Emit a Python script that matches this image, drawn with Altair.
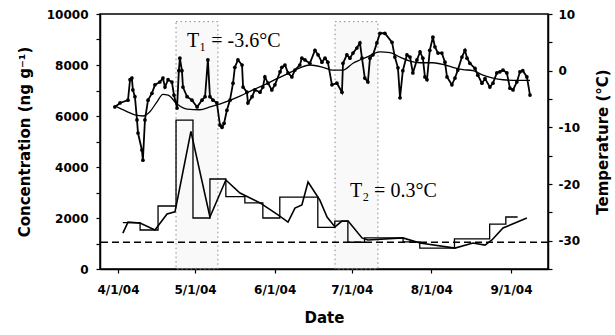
import altair as alt
import pandas as pd

BASE = pd.Timestamp("2004-04-01")

# Daily air temperature (days after 4/1/04, deg C) - right axis
temp_day = [-1.2, 0.8, 3.9, 4.7, 5.4, 5.8, 6.6, 7.4, 7.8, 9.3, 9.7, 10.5, 11.7, 13.2, 14.4, 16.3,
            17.5, 18.3, 19.5, 21.0, 21.8, 23.0, 23.7, 24.1, 24.9, 25.3, 26.9, 28.8, 30.8, 32.7,
            33.9, 35.0, 35.8, 37.0, 38.5, 39.7, 40.5, 41.3, 42.4, 43.6, 44.8, 45.5, 46.7, 48.3,
            48.7, 50.2, 50.6, 52.2, 53.3, 55.3, 56.4, 57.2, 58.4, 59.9, 61.1, 63.1, 63.8, 65.0,
            66.2, 67.7, 68.9, 70.8, 71.6, 72.8, 74.7, 76.7, 77.9, 79.4, 80.6, 81.7, 83.3, 85.2,
            87.2, 87.6, 89.1, 90.3, 91.5, 93.0, 94.2, 95.0, 96.1, 97.3, 98.1, 99.3, 100.8, 102.0,
            103.9, 106.7, 107.8, 109.0, 109.8, 110.9, 112.5, 113.7, 114.8, 116.4, 117.6, 118.7,
            119.5, 120.3, 121.4, 122.6, 123.4, 124.6, 126.1, 127.3, 128.1, 130.0, 131.2, 132.3,
            133.9, 135.1, 135.9, 137.0, 139.0, 140.1, 141.7, 142.9, 144.8, 146.0, 147.5, 148.7,
            149.9, 151.4, 152.6, 153.8, 155.3, 156.5, 157.6, 159.2, 160.4]
temp_val = [-6.4, -5.7, -5.2, -1.6, -1.3, -3.4, -4.6, -8.7, -11.0, -14.0, -15.8, -8.7, -5.2, -4.0,
            -2.5, -2.0, -1.3, -2.9, -1.6, -2.0, -4.3, -6.6, 0.0, 2.2, 0.0, -2.9, -4.6, -5.2, -6.4,
            -5.2, -4.6, 1.9, -4.6, -5.2, -5.7, -9.6, -10.0, -9.3, -7.0, -5.2, -2.2, 0.6, 1.9, 1.0,
            -2.9, -3.8, -5.7, -4.6, -3.4, -3.8, -2.9, -1.1, -2.2, -3.4, -2.5, -0.2, 0.6, 1.0, -0.4,
            -1.1, 0.1, 1.0, 2.2, 1.9, 1.3, 3.6, 2.8, 1.5, 2.2, 1.5, -2.5, -2.2, -3.8, 1.3, 2.8, 2.2,
            3.1, 4.0, 4.9, 2.2, -1.3, -2.0, 2.2, 2.8, 4.9, 6.6, 6.6, 5.0, 2.4, 0.5, -4.8, 0.0, 2.8,
            2.4, -0.4, 1.9, 3.3, 2.2, -1.1, -1.6, 3.6, 5.9, 4.2, 3.1, 3.1, 1.5, -1.1, -2.5, -1.3,
            0.1, 2.4, 3.6, 2.2, 1.3, 0.4, -0.8, -2.2, -1.4, -2.9, -2.2, -0.4, -0.2, 0.1, -0.4, -3.1,
            -3.4, -2.0, -0.2, 0.0, -1.1, -4.3]

# Smoothed temperature
smooth_day = [-0.4, 3.9, 6.6, 9.7, 12.5, 15.2, 17.5, 19.5, 23.0, 26.9, 31.9, 35.8, 40.9, 47.5,
              52.5, 58.0, 61.9, 65.8, 70.8, 74.7, 79.8, 83.7, 87.6, 91.5, 96.9, 102.0, 105.9,
              109.8, 113.7, 117.6, 122.6, 127.3, 130.4, 134.3, 138.2, 142.1, 146.0, 149.9,
              153.8, 160.4]
smooth_val = [-6.4, -7.3, -7.8, -8.0, -7.2, -5.5, -4.2, -4.3, -5.9, -6.8, -6.9, -6.4, -5.7, -4.5,
              -3.4, -2.3, -1.4, -0.6, 0.5, 1.0, 0.6, 0.1, 0.1, 1.3, 2.4, 3.3, 3.2, 2.4, 1.7, 1.4,
              1.4, 1.0, 0.6, 0.2, 0.0, -0.8, -1.3, -1.6, -1.7, -1.7]

# Sample-interval concentrations (start day of each interval, ng/g); last day closes the final step
step_day = [1.9, 8.6, 15.6, 22.6, 29.2, 35.8, 42.0, 49.4, 56.4, 63.0, 77.8, 84.4, 89.5, 96.0,
            111.0, 117.5, 131.0, 144.7, 151.0, 155.6]
step_val = [1820, 1530, 2470, 5840, 2000, 3530, 2840, 2590, 2000, 2820, 1630, 1880, 1050, 1220,
            1060, 820, 1180, 1760, 2040, 2040]

# Concentration line
line_day = [1.9, 3.9, 8.6, 14.4, 19.1, 22.2, 28.4, 35.8, 42.0, 47.5, 55.3, 62.3, 66.2, 68.9,
            71.6, 74.0, 78.6, 81.4, 84.5, 87.2, 89.6, 95.0, 97.3, 110.9, 117.6, 131.2, 138.2,
            142.9, 145.6, 149.9, 159.2]
line_val = [1410, 1840, 1800, 1530, 2160, 2240, 5400, 2040, 3490, 2980, 2590, 2120, 1840, 2390,
            2510, 3410, 2700, 2040, 1650, 1880, 1880, 1220, 1140, 1220, 1020, 820, 1020, 940,
            1140, 1610, 2000]

band_start = [22.6, 84.5]
band_end = [38.9, 101.2]
band_top = 9700
threshold = 1050

note_text = ["T\u2081 = -3.6°C", "T\u2082 = 0.3°C"]
note_day = [26.9, 90.3]
note_conc = [8700, 2820]


def to_dates(days):
    return [BASE + pd.Timedelta(days=d) for d in days]


x_scale = alt.Scale(domain=[alt.DateTime(year=2004, month=3, date=25),
                            alt.DateTime(year=2004, month=9, date=15, hours=10)])
x_axis = alt.Axis(title="Date",
                  values=[alt.DateTime(year=2004, month=m, date=1) for m in range(4, 10)],
                  format="%-m/%-d/%y", labelPadding=11, titlePadding=15)


def X(field):
    return alt.X(f"{field}:T", scale=x_scale, axis=x_axis)


conc_scale = alt.Scale(domain=[0, 10000], nice=False, zero=False)
conc_axis = alt.Axis(orient="left", title="Concentration (ng g\u207b\u00b9)",
                     values=list(range(0, 10001, 1000)),
                     labelExpr="datum.value % 2000 == 0 ? '' + datum.value : ''",
                     labelOverlap=False, labelPadding=8, titlePadding=14)


def YC(field):
    return alt.Y(f"{field}:Q", scale=conc_scale, axis=conc_axis)


temp_scale = alt.Scale(domain=[-35, 10], nice=False, zero=False)
temp_axis = alt.Axis(orient="right", title="Temperature (°C)",
                     values=list(range(-35, 11, 5)),
                     labelExpr="datum.value % 10 == 0 ? '' + datum.value : ''",
                     labelOverlap=False, labelPadding=6, titlePadding=16,
                     titleAngle=270, titleBaseline="top")


def YT(field):
    return alt.Y(f"{field}:Q", scale=temp_scale, axis=temp_axis)


bands_df = pd.DataFrame({"start": to_dates(band_start), "end": to_dates(band_end),
                         "lo": [0, 0], "hi": [band_top, band_top]})
steps_df = pd.DataFrame({"date": to_dates(step_day), "conc": step_val})
line_df = pd.DataFrame({"date": to_dates(line_day), "conc": line_val})
rule_df = pd.DataFrame({"conc": [threshold]})
notes_df = pd.DataFrame({"date": to_dates(note_day), "conc": note_conc, "label": note_text})
temp_df = pd.DataFrame({"date": to_dates(temp_day), "temp": temp_val})
smooth_df = pd.DataFrame({"date": to_dates(smooth_day), "temp": smooth_val})

bands = alt.Chart(bands_df).mark_rect(
    fill="#dcdcdc", fillOpacity=0.18, stroke="#8a8a8a", strokeWidth=1, strokeDash=[1.5, 3]
).encode(x=X("start"), x2="end:T", y=YC("lo"), y2="hi:Q")

steps = alt.Chart(steps_df).mark_line(
    interpolate="step-after", color="black", strokeWidth=1.3
).encode(x=X("date"), y=YC("conc"))

cline = alt.Chart(line_df).mark_line(color="black", strokeWidth=1.6).encode(
    x=X("date"), y=YC("conc"))

rule = alt.Chart(rule_df).mark_rule(color="black", strokeWidth=1.4, strokeDash=[7, 4]).encode(
    y=YC("conc"))

notes = alt.Chart(notes_df).mark_text(
    font="Liberation Serif", fontSize=20, align="left", baseline="alphabetic", color="black"
).encode(x=X("date"), y=YC("conc"), text="label:N")

conc_layer = alt.layer(bands, steps, cline, rule, notes)

temp_line = alt.Chart(temp_df).mark_line(
    color="black", strokeWidth=1.8,
    point=alt.OverlayMarkDef(filled=True, size=14, color="black")
).encode(x=X("date"), y=YT("temp"))

smooth_line = alt.Chart(smooth_df).mark_line(
    color="black", strokeWidth=1.3, interpolate="monotone"
).encode(x=X("date"), y=YT("temp"))

temp_layer = alt.layer(temp_line, smooth_line)

chart = alt.layer(conc_layer, temp_layer).resolve_scale(y="independent").properties(
    width=448, height=255,
    padding={"left": 100, "top": 14, "right": 67, "bottom": 66},
    autosize=alt.AutoSizeParams(type="none"),
    background="white",
).configure_view(
    stroke="black", strokeWidth=1.5
).configure_axis(
    grid=False, domainColor="black", domainWidth=1.5, tickColor="black", tickWidth=1.2,
    tickSize=4, labelFont="DejaVu Sans", labelFontWeight="bold", labelFontSize=12,
    labelColor="black", titleFont="DejaVu Sans", titleFontWeight="bold", titleFontSize=15,
    titleColor="black"
)

chart.save("out.html", embed_options={"renderer": "svg", "actions": False})
